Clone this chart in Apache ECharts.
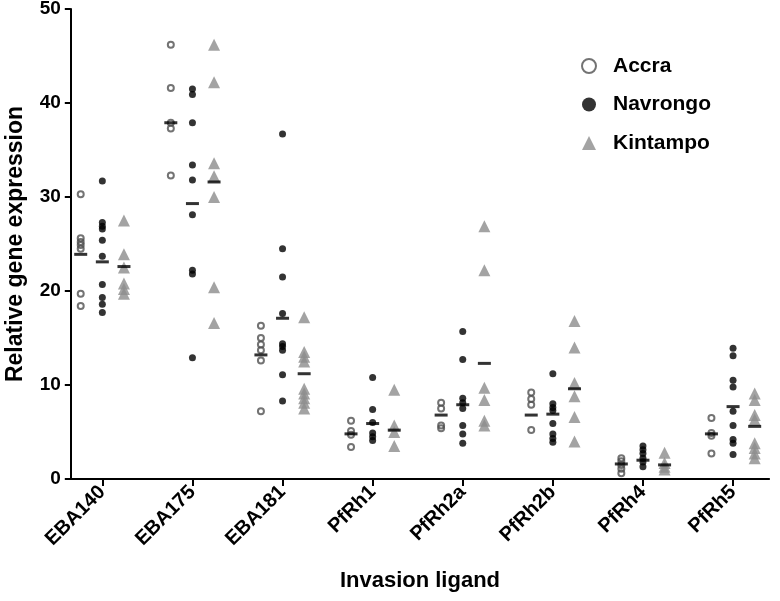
<!DOCTYPE html>
<html>
<head>
<meta charset="utf-8">
<script src="https://cdn.jsdelivr.net/npm/echarts@6/dist/echarts.min.js"></script>
<style>
html,body{margin:0;padding:0;background:#fff;}
#chart{width:780px;height:601px;}
</style>
</head>
<body>
<div id="chart"></div>
<script>
const categories = ['EBA140','EBA175','EBA181','PfRh1','PfRh2a','PfRh2b','PfRh4','PfRh5'];
const yTicks = [0,10,20,30,40,50];

const accra = [
  [30.3,25.6,25.2,24.9,24.5,19.7,18.4],
  [46.2,41.6,37.9,37.3,32.3],
  [16.3,15.0,14.3,13.7,12.6,7.2],
  [6.2,5.1,4.7,3.4],
  [8.1,7.5,5.7,5.4],
  [9.2,8.5,7.9,5.2],
  [2.2,1.9,1.5,1.1,0.6],
  [6.5,4.9,4.6,2.7]
];
const navrongo = [
  [31.7,27.3,26.9,26.6,25.4,23.7,20.7,19.3,18.6,17.7],
  [41.5,40.9,37.9,33.4,31.8,28.1,22.2,21.8,12.9],
  [36.7,24.5,21.5,17.6,14.4,14.1,13.7,11.1,8.3],
  [10.8,7.4,6.0,4.9,4.5,4.1],
  [15.7,12.7,8.6,8.1,7.5,5.7,4.8,3.8],
  [11.2,8.0,7.6,7.3,5.9,4.8,4.3,3.9],
  [3.5,3.1,2.7,2.2,1.8,1.3],
  [13.9,13.1,10.5,9.8,7.2,5.7,4.2,3.8,2.6]
];
const kintampo = [
  [27.5,23.9,22.5,20.8,20.2,19.7],
  [46.2,42.2,33.6,32.2,30.0,20.4,16.6],
  [17.2,13.5,13.0,12.5,9.6,9.1,8.6,8.1,7.5],
  [9.5,5.7,5.0,3.5],
  [26.9,22.2,9.7,8.4,6.2,5.7],
  [16.8,14.0,10.2,8.8,6.6,4.0],
  [2.8,1.7,1.3,1.0],
  [9.1,8.4,6.8,6.3,3.8,3.3,2.7,2.2]
];
const accraMean    = [23.9,37.9,13.2,4.8,6.8,6.8,1.6,4.8];
const navrongoMean = [23.1,29.3,17.1,5.9,7.9,6.9,2.0,7.7];
const kintampoMean = [22.6,31.6,11.2,5.2,12.3,9.6,1.5,5.6];

const OFF = 0.24;
function pts(arr, off){
  const out = [];
  arr.forEach((vals,i)=>vals.forEach(v=>out.push([i+off, v])));
  return out;
}
function meanPts(arr, off){
  return arr.map((v,i)=>[i+off, v]);
}

const FONT = 'Liberation Sans, Arial, Helvetica, sans-serif';
const catIdx = categories.map((c,i)=>i);

const chart = echarts.init(document.getElementById('chart'), null, {renderer:'canvas'});
const meanStyle = {
  type:'scatter', symbol:'rect', symbolSize:[13,3], z:5,
  itemStyle:{color:'#000'}, silent:true, emphasis:{disabled:true}
};
chart.setOption({
  animation:false,
  backgroundColor:'#fff',
  grid:{left:70.8, right:10.9, top:9, bottom:122, containLabel:false, outerBoundsMode:'none'},
  legend:{
    data:['Accra','Navrongo','Kintampo'],
    orient:'vertical', left:576, top:50,
    itemWidth:14, itemHeight:14, itemGap:16.5,
    textStyle:{fontFamily:FONT, fontWeight:'bold', fontSize:21, color:'#000', lineHeight:22, padding:[0,0,0,12]},
    selectedMode:false
  },
  xAxis:{
    type:'value', min:-0.35, max:7.4,
    name:'Invasion ligand', nameLocation:'middle', nameGap:91,
    nameTextStyle:{fontFamily:FONT, fontWeight:'bold', fontSize:22, color:'#000'},
    splitLine:{show:false},
    axisLine:{show:true, onZero:false, lineStyle:{color:'#000', width:2}},
    axisTick:{show:true, inside:false, length:7, customValues:catIdx, lineStyle:{color:'#000', width:2}},
    axisLabel:{
      customValues:catIdx, rotate:45, margin:10,
      fontFamily:FONT, fontWeight:'bold', fontSize:20, color:'#000',
      formatter:v=>categories[Math.round(v)]
    }
  },
  yAxis:{
    type:'value', min:0, max:50, interval:10,
    name:'Relative gene expression', nameLocation:'middle', nameGap:44,
    nameTextStyle:{fontFamily:FONT, fontWeight:'bold', fontSize:23, color:'#000'},
    splitLine:{show:false},
    axisLine:{show:true, onZero:false, lineStyle:{color:'#000', width:2}},
    axisTick:{show:true, inside:false, length:6, lineStyle:{color:'#000', width:2}},
    axisLabel:{
      margin:10, fontFamily:FONT, fontWeight:'bold', fontSize:19, color:'#000',
      formatter:v=>yTicks.includes(v) ? String(v) : ''
    }
  },
  series:[
    {name:'Accra', type:'scatter', symbol:'circle', symbolSize:6,
     itemStyle:{color:'rgba(0,0,0,0)', borderColor:'#505050', borderWidth:2},
     emphasis:{disabled:true}, data:pts(accra,-OFF)},
    {name:'Navrongo', type:'scatter', symbol:'circle', symbolSize:7,
     itemStyle:{color:'#000'}, emphasis:{disabled:true}, data:pts(navrongo,0)},
    {name:'Kintampo', type:'scatter', symbol:'triangle', symbolSize:12,
     itemStyle:{color:'#8c8c8c'}, emphasis:{disabled:true}, data:pts(kintampo,OFF)},
    Object.assign({name:'AccraMean', data:meanPts(accraMean,-OFF)}, meanStyle),
    Object.assign({name:'NavrongoMean', data:meanPts(navrongoMean,0)}, meanStyle),
    Object.assign({name:'KintampoMean', data:meanPts(kintampoMean,OFF)}, meanStyle)
  ]
});
</script>
</body>
</html>
